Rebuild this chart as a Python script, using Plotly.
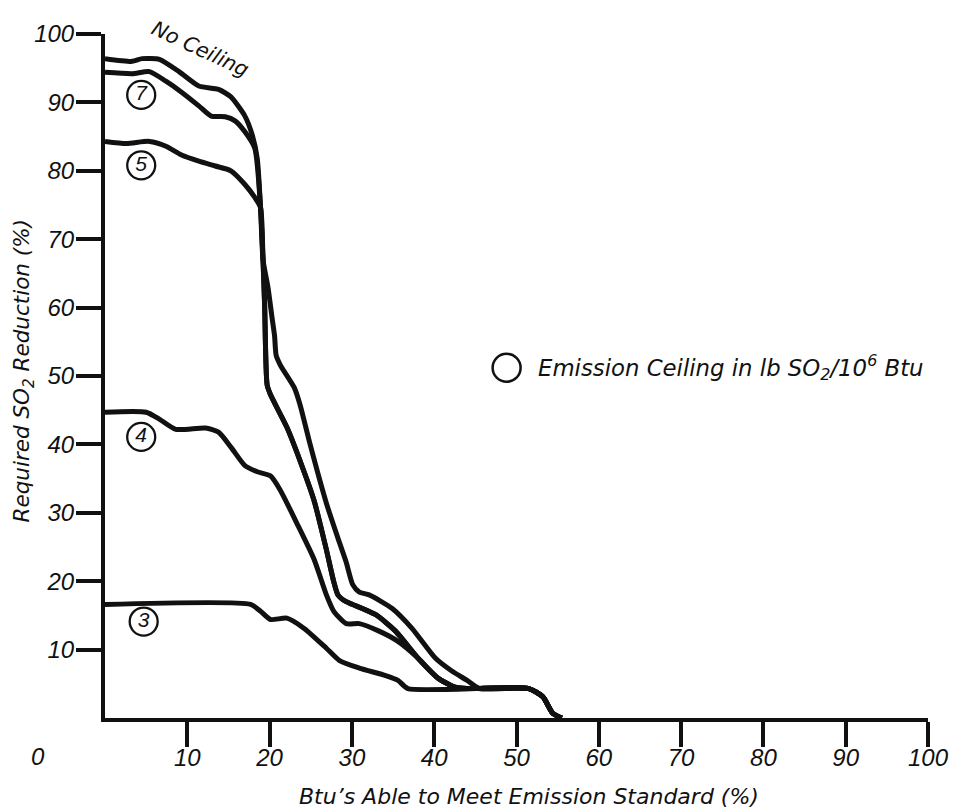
import plotly.graph_objects as go

# ---------------- data ----------------
x_ticks = [10, 20, 30, 40, 50, 60, 70, 80, 90, 100]
y_ticks = [10, 20, 30, 40, 50, 60, 70, 80, 90, 100]

# plateau part of each curve
nc_x = [0.0, 3.3, 4.5, 6.6, 9.0, 11.4, 13.8, 15.3, 17.0, 17.9, 18.5]
nc_y = [96.4, 96.0, 96.4, 96.3, 94.5, 92.4, 91.9, 90.8, 88.0, 85.2, 81.8]

c7_x = [0.0, 3.3, 5.4, 7.4, 9.3, 11.4, 12.9, 14.6, 15.8, 17.0, 18.2]
c7_y = [94.4, 94.2, 94.5, 93.1, 91.5, 89.5, 88.0, 87.9, 87.3, 85.7, 83.3]

c5_x = [0.0, 2.6, 5.4, 7.4, 9.3, 11.4, 13.4, 15.3, 17.0, 18.2]
c5_y = [84.3, 84.0, 84.3, 83.6, 82.3, 81.4, 80.7, 80.0, 78.0, 76.1]

c4_x = [0.0, 5.0, 6.6, 8.6, 12.2, 13.8, 15.3, 17.0, 18.5, 20.1, 21.3, 23.3,
        25.4, 26.9, 27.8, 29.3, 30.9, 33.3, 35.6]
c4_y = [44.7, 44.7, 43.7, 42.2, 42.4, 41.8, 39.6, 36.9, 36.0, 35.4, 33.3, 28.5,
        23.2, 18.0, 15.6, 13.8, 13.8, 12.7, 11.2]

c3_x = [0.0, 17.7, 18.9, 20.1, 22.1, 24.2, 26.9, 28.5, 30.9, 34.1, 35.6, 36.8]
c3_y = [16.6, 16.6, 15.6, 14.4, 14.6, 13.1, 10.2, 8.4, 7.3, 6.2, 5.5, 4.3]

# steep common drop shared by No Ceiling, 7 and 5
drop_x = [18.9, 19.2]
drop_y = [74.6, 67.0]

# right branch (No Ceiling) below the drop
ncr_x = [19.8, 20.3, 20.6, 20.8, 21.3, 23.0, 23.7, 24.9, 26.9, 28.5, 29.3, 30.1,
         30.9, 32.1, 34.9, 37.3, 40.1, 42.1, 44.0, 45.5]
ncr_y = [63.0, 58.5, 55.9, 53.0, 51.6, 48.3, 45.8, 40.1, 31.4, 25.6, 22.8, 19.5,
         18.4, 18.0, 16.0, 13.1, 8.8, 6.9, 5.5, 4.3]

# left branch (ceilings 7 and 5) below the drop
lb_x = [19.4, 19.7, 20.1, 22.1, 23.7, 25.4, 26.9, 27.8, 28.3, 29.3, 30.1, 32.9,
        35.3]
lb_y = [60.2, 48.7, 47.3, 42.5, 37.6, 31.8, 24.6, 19.9, 18.0, 17.0, 16.6, 15.1,
        12.7]

# lower part shared by 7, 5 and 4
low_x = [38.0, 40.4, 42.5, 44.0]
low_y = [8.8, 5.9, 4.5, 4.3]

# common floor and final drop to zero
tail_x = [51.5, 53.2, 54.4, 55.5]
tail_y = [4.3, 3.1, 0.7, 0.0]

label_text = ["7", "5", "4", "3"]
label_x = [4.4, 4.4, 4.4, 4.7]
label_y = [91.1, 80.8, 41.1, 14.1]

legend_x = [48.8]
legend_y = [51.2]

# ---------------- assemble curves ----------------
curves = {
    "No Ceiling": (nc_x + drop_x + ncr_x + tail_x, nc_y + drop_y + ncr_y + tail_y),
    "7": (c7_x + drop_x + lb_x + low_x + tail_x, c7_y + drop_y + lb_y + low_y + tail_y),
    "5": (c5_x + drop_x + lb_x + low_x + tail_x, c5_y + drop_y + lb_y + low_y + tail_y),
    "4": (c4_x + low_x + tail_x, c4_y + low_y + tail_y),
    "3": (c3_x + tail_x, c3_y + tail_y),
}

INK = "#111111"
FONT = "Liberation Sans"
WIDE = "DejaVu Sans"

fig = go.Figure()
for name, (xs, ys) in curves.items():
    fig.add_trace(go.Scatter(
        x=xs, y=ys, mode="lines", name=name,
        line=dict(color=INK, width=5, shape="spline", smoothing=0.6),
        showlegend=False, hoverinfo="skip"))

# circled ceiling labels
fig.add_trace(go.Scatter(
    x=label_x, y=label_y, mode="markers+text", text=label_text,
    textposition="middle center",
    textfont=dict(family=FONT, size=21, color=INK, style="italic"),
    marker=dict(symbol="circle-open", size=28, color=INK, line=dict(width=2.3, color=INK)),
    showlegend=False, hoverinfo="skip"))

# legend circle
fig.add_trace(go.Scatter(
    x=legend_x, y=legend_y, mode="markers",
    marker=dict(symbol="circle-open", size=28, color=INK, line=dict(width=2.5, color=INK)),
    showlegend=False, hoverinfo="skip"))

fig.add_annotation(x=52.4, y=legend_y[0], xref="x", yref="y", xanchor="left",
                   yanchor="middle", showarrow=False,
                   text="Emission Ceiling in lb SO<sub>2</sub>/10<sup>6</sup> Btu",
                   font=dict(family=WIDE, size=22.8, color=INK, style="italic"))

fig.add_annotation(x=11.6, y=97.8, xref="x", yref="y", xanchor="center",
                   yanchor="middle", showarrow=False,
                   text="No Ceiling", textangle=25,
                   font=dict(family=WIDE, size=20.5, color=INK, style="italic"))

fig.add_annotation(x=-0.0813, y=-0.0562, xref="paper", yref="paper", showarrow=False,
                   xanchor="center", yanchor="middle",
                   text="0", font=dict(family=FONT, size=24, color=INK, style="italic"))

fig.add_annotation(x=0.5156, y=-0.1153, xref="paper", yref="paper", showarrow=False,
                   xanchor="center", yanchor="middle",
                   text="Btu\u2019s Able to Meet Emission Standard (%)",
                   font=dict(family=WIDE, size=22, color=INK, style="italic"))

fig.add_annotation(x=-0.0993, y=0.507, xref="paper", yref="paper", showarrow=False,
                   xanchor="center", yanchor="middle",
                   text="Required SO<sub>2</sub> Reduction (%)", textangle=-90,
                   font=dict(family=WIDE, size=21.5, color=INK, style="italic"))

axis_common = dict(
    range=[0, 100], showgrid=False, zeroline=False, showline=True,
    linecolor=INK, linewidth=4, ticks="outside", ticklen=25, tickwidth=4,
    tickcolor=INK, tickfont=dict(family=FONT, size=24, color=INK, style="italic"),
    ticklabeloverflow="allow", fixedrange=True)

fig.update_xaxes(tickvals=x_ticks, ticktext=[str(v) for v in x_ticks],
                 ticklabelstandoff=-10, **axis_common)
fig.update_yaxes(tickvals=y_ticks, ticktext=[str(v) for v in y_ticks],
                 ticklabelstandoff=-3, **axis_common)

# page body adds an 8 px offset; size the figure so the plot lands on the
# reference's pixel box (x 105-941, y 24-718)
fig.update_layout(
    width=953, height=801,
    margin=dict(l=97, r=20, t=16, b=91),
    paper_bgcolor="white", plot_bgcolor="white",
    font=dict(family=FONT, color=INK),
)

fig.write_html("out.html")
